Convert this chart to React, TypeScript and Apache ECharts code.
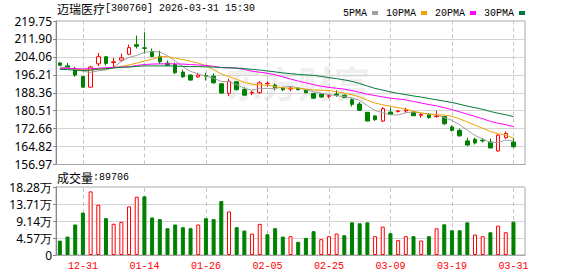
import React, { useEffect, useRef } from 'react';
import * as echarts from 'echarts';

// ---- data ----
const stockName = '迈瑞医疗';
const stockCode = '300760';
const stamp = '2026-03-31 15:30';

const dates = ['12-26','12-29','12-30','12-31','01-05','01-06','01-07','01-08','01-09','01-12','01-13','01-14','01-15','01-16','01-19','01-20','01-21','01-22','01-23','01-26','01-27','01-28','01-29','01-30','02-02','02-03','02-04','02-05','02-06','02-09','02-10','02-11','02-12','02-13','02-24','02-25','02-26','02-27','03-02','03-03','03-04','03-05','03-06','03-09','03-10','03-11','03-12','03-13','03-16','03-17','03-18','03-19','03-20','03-23','03-24','03-25','03-26','03-27','03-30','03-31'];
const tickLabels = ['12-31','01-14','01-26','02-05','02-25','03-09','03-19','03-31'];

const opens  = [201.4,200.1,199.0,195.5,190.8,201.0,204.1,201.6,202.6,205.2,209.4,208.0,206.5,204.3,201.3,200.7,197.4,196.1,195.3,195.9,195.6,192.3,188.1,193.2,189.8,188.2,188.4,192.3,191.7,190.4,190.0,190.3,189.5,188.1,187.8,186.8,187.8,187.3,185.3,183.4,179.8,178.2,176.0,179.9,180.1,180.4,179.8,178.5,178.9,177.9,177.9,173.4,171.9,167.3,168.0,167.6,166.8,162.9,168.7,166.8];
const closes = [200.4,199.3,196.1,190.8,199.6,204.1,201.2,201.9,203.6,208.1,208.7,207.8,204.2,201.9,200.4,197.1,195.3,193.9,196.1,195.6,192.7,188.2,193.4,189.7,187.3,188.5,192.7,192.5,190.5,189.7,190.3,189.7,188.4,186.0,186.5,187.1,187.3,186.3,183.3,180.7,176.0,176.6,181.4,178.9,180.4,180.8,178.3,178.8,177.5,178.2,174.8,171.9,169.5,165.5,166.4,167.3,164.2,169.8,170.5,164.7];
const lows   = [200.1,199.1,195.3,190.7,190.7,200.0,200.3,199.1,201.9,204.8,207.7,205.5,203.9,201.0,200.0,196.6,194.9,193.7,194.9,193.7,192.3,188.1,186.9,189.4,187.2,187.3,187.9,191.1,189.4,189.1,189.1,189.4,188.1,185.9,186.2,186.0,186.6,186.2,182.3,180.4,175.9,176.0,175.6,178.5,179.8,179.5,178.2,177.5,176.9,177.5,174.3,171.4,169.2,165.0,165.7,166.6,164.1,162.6,168.2,164.5];
const highs  = [201.9,201.4,199.7,195.6,200.1,205.8,204.2,203.6,205.5,209.4,213.4,214.8,207.7,206.8,202.5,201.6,198.5,196.4,197.1,197.1,196.8,192.4,194.5,193.4,190.8,189.1,193.4,193.4,192.4,191.1,191.1,190.5,189.8,188.2,188.1,187.6,189.5,187.5,185.9,184.3,179.9,178.6,182.1,181.8,180.8,181.8,180.4,179.5,179.5,180.5,178.3,174.1,172.7,168.7,168.7,168.5,168.3,170.2,171.4,168.6];
const volumes = [38700,49500,82000,114000,171000,135000,99000,84000,89000,130600,156700,157600,100900,96400,72000,82000,74700,72000,82000,99000,96400,145000,117000,74700,65700,57600,83700,55800,72000,49500,50600,35500,46000,63900,42600,50600,57700,53200,87800,85200,87800,50600,76300,58500,39900,50600,50600,39000,50600,71800,82500,66500,66500,87800,55000,50600,61200,79000,61200,89706];
const prevClose = 202.0; // close of the day before the window (volume of day 1 is green)

// moving-average values before a full window exists
const ma5Head = [199.6,199.3,198.6,197.8];
const ma10Head = [199.0,199.0,198.7,198.4,198.4,198.7,198.9,199.3,199.9];
const ma20Head = [199.1,199.0,198.9,198.8,198.9,199.1,199.3,199.5,199.6,199.7,200.3,200.7,200.9,201.0,201.0,201.0,200.9,200.7,200.5];
const ma30Head = [198.6,198.5,198.2,198.1,198.2,198.7,198.8,199.2,199.5,199.6,199.9,200.1,200.1,200.1,200.1,200.0,199.9,199.8,199.8,199.7,199.6,199.4,199.3,199.1,198.9,198.6,198.3,197.9,197.5];

const priceMin = 156.97;
const priceMax = 219.75;
const priceSteps = 8;
const volMax = 182800;
const volStep = 45700;

const maNames = ['5PMA', '10PMA', '20PMA', '30PMA'];
const maColors = ['#a0a0a0', '#f0a000', '#ff00ff', '#007a3a'];

const RED = '#ff0000';
const GREEN = '#008000';

function movingAverage(n: number, head: number[]) {
  return closes.map((_, i) => {
    if (i < n - 1) return head[i];
    let s = 0;
    for (let k = i - n + 1; k <= i; k++) s += closes[k];
    return +(s / n).toFixed(2);
  });
}

export default function App() {
  const ref = useRef<HTMLDivElement>(null);
  useEffect(() => {
    document.body.style.margin = '0';
    const chart = echarts.init(ref.current!, null, { renderer: 'svg' });
    const categories = dates.concat(['']);
    const candleData = dates.map((_, i) => [opens[i], closes[i], lows[i], highs[i]]);
    const volData = volumes.map((v, i) => {
      const pc = i === 0 ? prevClose : closes[i - 1];
      const up = closes[i] >= pc;
      return {
        value: v,
        itemStyle: up
          ? { color: '#ffffff', borderColor: RED, borderWidth: 1 }
          : { color: GREEN, borderColor: GREEN, borderWidth: 1 },
      };
    });
    const mas = [
      movingAverage(5, ma5Head),
      movingAverage(10, ma10Head),
      movingAverage(20, ma20Head),
      movingAverage(30, ma30Head),
    ];
    const markLine = {
      silent: true,
      z: 1,
      symbol: ['none', 'none'],
      label: { show: false },
      lineStyle: { color: '#c4c4c4', type: [4, 3], width: 1 },
      data: tickLabels.map((d) => ({ xAxis: d })),
    };
    const axisFont = { fontFamily: 'Noto Sans', fontSize: 12, color: '#000' };
    const option: any = {
      animation: false,
      backgroundColor: '#ffffff',
      legend: {
        data: maNames,
        left: 338,
        top: 3,
        align: 'right',
        icon: 'rect',
        itemWidth: 6,
        itemHeight: 4,
        itemGap: 8,
        selectedMode: false,
        textStyle: { fontFamily: 'Liberation Mono', fontSize: 10, color: '#000' },
      },
      grid: [
        { left: 56, top: 21, width: 469, height: 143.5, show: true, borderColor: '#a8a8a8', borderWidth: 1 },
        { left: 56, top: 187, width: 469, height: 68, show: true, borderColor: '#a8a8a8', borderWidth: 1 },
      ],
      xAxis: [
        {
          type: 'category', gridIndex: 0, data: categories, boundaryGap: true,
          axisLine: { show: true, lineStyle: { color: '#a8a8a8' } },
          axisTick: { show: false }, axisLabel: { show: false }, splitLine: { show: false },
        },
        {
          type: 'category', gridIndex: 1, data: categories, boundaryGap: true,
          axisLine: { show: true, lineStyle: { color: '#a8a8a8' } },
          axisTick: { show: false },
          axisLabel: {
            show: true,
            interval: (_: number, v: string) => tickLabels.indexOf(v) >= 0,
            color: RED, fontFamily: 'Liberation Mono', fontSize: 10, margin: 6,
          },
          splitLine: { show: false },
        },
      ],
      yAxis: [
        { type: 'value', gridIndex: 0, min: priceMin, max: priceMax, show: false, splitLine: { show: false } },
        {
          type: 'value', gridIndex: 0, min: 0, max: priceSteps, interval: 1, position: 'left',
          axisLine: { show: true, lineStyle: { color: '#888' } },
          axisTick: { show: true, length: 3, lineStyle: { color: '#888' } },
          axisLabel: {
            ...axisFont, margin: 4,
            formatter: (v: number) => (priceMin + (v * (priceMax - priceMin)) / priceSteps).toFixed(2),
          },
          splitLine: { show: true, lineStyle: { color: '#d4d4d4', width: 1 } },
        },
        {
          type: 'value', gridIndex: 1, min: 0, max: volMax, interval: volStep, position: 'left',
          axisLine: { show: true, lineStyle: { color: '#888' } },
          axisTick: { show: true, length: 3, lineStyle: { color: '#888' } },
          axisLabel: {
            ...axisFont, margin: 4,
            formatter: (v: number) => (v === 0 ? '0' : (v / 10000).toFixed(2) + '万'),
          },
          splitLine: { show: true, lineStyle: { color: '#d4d4d4', width: 1 } },
        },
      ],
      graphic: [
        {
          type: 'text', x: 226, y: 64, z: 0, silent: true,
          style: { text: '东方财富', fontFamily: 'Noto Sans CJK SC', fontWeight: 'bold', fontSize: 36, fill: '#efefef' },
        },
        {
          type: 'text', x: 57, y: 2, z: 10,
          style: {
            text: `{a|${stockName}}{b|[${stockCode}] ${stamp}}`,
            rich: {
              a: { fontFamily: 'Noto Sans CJK SC', fontSize: 12, fill: '#000' },
              b: { fontFamily: 'Liberation Mono', fontSize: 10, fill: '#000' },
            },
          },
        },
        {
          type: 'text', x: 57, y: 171, z: 10,
          style: {
            text: `{a|成交量}{b|:${volumes[volumes.length - 1]}}`,
            rich: {
              a: { fontFamily: 'Noto Sans CJK SC', fontSize: 12, fill: '#000' },
              b: { fontFamily: 'Liberation Mono', fontSize: 10, fill: '#000' },
            },
          },
        },
      ],
      series: [
        {
          type: 'line', name: 'grid-main', xAxisIndex: 0, yAxisIndex: 0, data: [],
          symbol: 'none', markLine, z: 1,
        },
        {
          type: 'line', name: 'grid-vol', xAxisIndex: 1, yAxisIndex: 2, data: [],
          symbol: 'none', markLine, z: 1,
        },
        {
          type: 'candlestick', name: 'K', xAxisIndex: 0, yAxisIndex: 0, data: candleData, barWidth: 4,
          itemStyle: { color: '#ffffff', color0: GREEN, borderColor: RED, borderColor0: GREEN, borderWidth: 1 },
          z: 3,
        },
        ...maNames.map((n, k) => ({
          type: 'line', name: n, xAxisIndex: 0, yAxisIndex: 0, data: mas[k],
          showSymbol: false, symbol: 'none', color: maColors[k],
          lineStyle: { width: 1, color: maColors[k] }, z: 4,
        })),
        {
          type: 'bar', name: 'VOL', xAxisIndex: 1, yAxisIndex: 2, data: volData, barWidth: 4,
          z: 3,
        },
      ],
    };
    chart.setOption(option);
    return () => chart.dispose();
  }, []);
  return <div ref={ref} style={{ width: 578, height: 276 }} />;
}
